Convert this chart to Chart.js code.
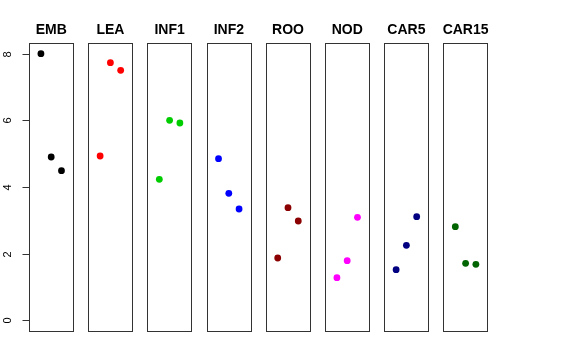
<!DOCTYPE html>
<html>
<head>
<meta charset="utf-8">
<script src="https://cdn.jsdelivr.net/npm/chart.js@4"></script>
<style>
  body { margin: 0; background: #fff; }
  #wrap { position: relative; width: 576px; height: 360px; }
  #wrap canvas { position: absolute; left: 0; top: 0; }
</style>
</head>
<body>
<div id="wrap"></div>
<script>
// groups and their three values (x positions 1,2,3)
var groups = ['EMB', 'LEA', 'INF1', 'INF2', 'ROO', 'NOD', 'CAR5', 'CAR15'];
var colours = ['#000000', '#FF0000', '#00CD00', '#0000FF', '#8B0000', '#FF00FF', '#000080', '#006400'];
var xPos = [1, 2, 3];
var EMB = [8.0, 4.9, 4.49];
var LEA = [4.93, 7.73, 7.5];
var INF1 = [4.23, 6.0, 5.92];
var INF2 = [4.85, 3.81, 3.34];
var ROO = [1.87, 3.38, 2.98];
var NOD = [1.28, 1.79, 3.09];
var CAR5 = [1.52, 2.25, 3.11];
var CAR15 = [2.81, 1.71, 1.68];
var series = [EMB, LEA, INF1, INF2, ROO, NOD, CAR5, CAR15];
var yTicks = [0, 2, 4, 6, 8];

var W = 576, H = 360;
var panelTop = 43, panelBottom = 331;
var firstLeft = 29, step = 59.2, panelW = 44.4;

// box + title + (first panel only) y axis
var panelPlugin = {
	id: 'panel',
	afterDraw(chart, args, opts) {
		var ctx = chart.ctx, a = chart.chartArea;
		ctx.save();
		ctx.strokeStyle = '#333';
		ctx.lineWidth = 1;
		ctx.strokeRect(Math.round(a.left) + 0.5, Math.round(a.top) + 0.5,
			Math.round(a.right - a.left), Math.round(a.bottom - a.top));
		ctx.fillStyle = '#000';
		ctx.font = 'bold 14px "Liberation Sans", Arial, sans-serif';
		ctx.textAlign = 'center';
		ctx.textBaseline = 'middle';
		ctx.fillText(opts.title, (a.left + a.right) / 2, 30);
		if (opts.axis) {
			var ys = chart.scales.y;
			var x0 = Math.round(a.left) + 0.5;
			ctx.beginPath();
			ctx.moveTo(x0, ys.getPixelForValue(yTicks[0]));
			ctx.lineTo(x0, ys.getPixelForValue(yTicks[yTicks.length - 1]));
			ctx.stroke();
			ctx.font = '11px "Liberation Sans", Arial, sans-serif';
			yTicks.forEach(function (t) {
				var py = Math.round(ys.getPixelForValue(t)) + 0.5;
				ctx.beginPath();
				ctx.moveTo(x0 - 7, py);
				ctx.lineTo(x0, py);
				ctx.stroke();
				ctx.save();
				ctx.translate(8, py);
				ctx.rotate(-Math.PI / 2);
				ctx.fillText(String(t), 0, 0);
				ctx.restore();
			});
		}
		ctx.restore();
	}
};

var wrap = document.getElementById('wrap');
groups.forEach(function (name, i) {
	var cv = document.createElement('canvas');
	cv.width = W;
	cv.height = H;
	wrap.appendChild(cv);
	var left = firstLeft + i * step;
	new Chart(cv, {
		type: 'scatter',
		data: {
			datasets: [{
				data: xPos.map(function (x, k) { return { x: x, y: series[i][k] }; }),
				backgroundColor: colours[i],
				borderColor: colours[i],
				pointRadius: 3.4,
				borderWidth: 0
			}]
		},
		options: {
			responsive: false,
			animation: false,
			layout: { padding: { left: left, right: W - left - panelW, top: panelTop, bottom: H - panelBottom } },
			scales: {
				x: { display: false, min: -0.16, max: 4.16 },
				y: { display: false, min: -0.32, max: 8.32 }
			},
			plugins: {
				legend: { display: false },
				tooltip: { enabled: false },
				panel: { title: name, axis: i === 0 }
			}
		},
		plugins: [panelPlugin]
	});
});
</script>
</body>
</html>
